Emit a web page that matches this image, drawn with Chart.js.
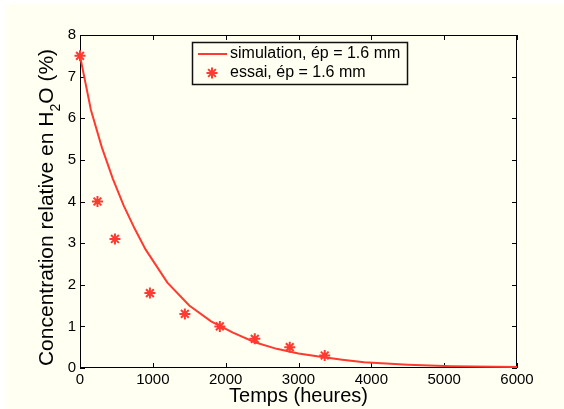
<!DOCTYPE html>
<html><head><meta charset="utf-8">
<script src="https://cdn.jsdelivr.net/npm/chart.js@4.4.1/dist/chart.umd.min.js"></script>
<style>html,body{margin:0;padding:0;background:#fff;}canvas{display:block;}</style>
</head><body>
<canvas id="c" width="564" height="409"></canvas>
<script>
// ---- data ----
const simTime = [0,75,150,300,450,600,750,900,1200,1500,1800,2100,2400,2700,3000,3300,3600,3900,4200,4500,4800,5100,5400,5700,6000];
const simConc = [7.5,6.85,6.2,5.3,4.55,3.9,3.35,2.85,2.05,1.5,1.12,0.85,0.62,0.46,0.35,0.27,0.2,0.14,0.11,0.08,0.06,0.045,0.035,0.03,0.025];
const testTime = [0,240,480,960,1440,1920,2400,2880,3360];
const testConc = [7.5,4.0,3.1,1.8,1.3,1.0,0.7,0.5,0.3];
const xTicks = [0,1000,2000,3000,4000,5000,6000];
const yTicks = [0,1,2,3,4,5,6,7,8];
const seriesLabels = ['simulation, ép = 1.6 mm','essai, ép = 1.6 mm'];
const xTitle = 'Temps (heures)';
const yTitleParts = ['Concentration relative en H','2','O (%)'];

const RED = '#ff3a30';
const CREAM = '#fffff2';
const FONT = '"Liberation Sans", Arial, Helvetica, sans-serif';

const bgPlugin = {
  id: 'bg',
  beforeDraw(chart) {
    const ctx = chart.ctx;
    ctx.save();
    ctx.fillStyle = CREAM;
    ctx.fillRect(5, 4, chart.width - 5, chart.height - 4);
    ctx.restore();
  }
};

const framePlugin = {
  id: 'frame',
  beforeDatasetsDraw(chart) {
    const {ctx, chartArea: a, scales} = chart;
    ctx.save();
    ctx.strokeStyle = '#000';
    ctx.lineWidth = 1;
    ctx.beginPath();
    ctx.rect(a.left + 0.5, a.top + 0.5, a.right - a.left - 1, a.bottom - a.top - 1);
    ctx.stroke();
    const L = 5;
    ctx.beginPath();
    xTicks.forEach(v => {
      const px = Math.round(scales.x.getPixelForValue(v)) + 0.5;
      ctx.moveTo(px, a.bottom); ctx.lineTo(px, a.bottom - L);
      ctx.moveTo(px, a.top); ctx.lineTo(px, a.top + L);
    });
    yTicks.forEach(v => {
      const py = Math.round(scales.y.getPixelForValue(v)) + 0.5;
      ctx.moveTo(a.left, py); ctx.lineTo(a.left + L, py);
      ctx.moveTo(a.right, py); ctx.lineTo(a.right - L, py);
    });
    ctx.stroke();
    ctx.restore();
  },
  afterDraw(chart) {
    const ctx = chart.ctx;
    // legend
    ctx.save();
    const bx = 192, by = 42, bw = 215, bh = 42;
    ctx.fillStyle = CREAM;
    ctx.fillRect(bx, by, bw, bh);
    ctx.strokeStyle = '#111';
    ctx.lineWidth = 1.5;
    ctx.strokeRect(bx + 0.5, by + 0.5, bw, bh);
    const ds = chart.data.datasets;
    ctx.strokeStyle = ds[0].borderColor;
    ctx.lineWidth = 2;
    ctx.beginPath();
    ctx.moveTo(198, 54); ctx.lineTo(227, 54);
    ctx.stroke();
    ctx.strokeStyle = ds[1].borderColor;
    ctx.lineWidth = 2;
    ctx.beginPath();
    const r = 5.5, cx = 212, cy = 73;
    ctx.moveTo(cx - r, cy); ctx.lineTo(cx + r, cy);
    ctx.moveTo(cx, cy - r); ctx.lineTo(cx, cy + r);
    const d = r * Math.SQRT1_2;
    ctx.moveTo(cx - d, cy - d); ctx.lineTo(cx + d, cy + d);
    ctx.moveTo(cx - d, cy + d); ctx.lineTo(cx + d, cy - d);
    ctx.stroke();
    ctx.fillStyle = '#000';
    ctx.font = '16px ' + FONT;
    ctx.textBaseline = 'middle';
    ctx.textAlign = 'left';
    ctx.fillText(ds[0].label, 230, 54);
    ctx.fillText(ds[1].label, 230, 73);
    ctx.restore();

    // y axis title with subscript
    ctx.save();
    ctx.fillStyle = '#000';
    ctx.translate(53, 207.5);
    ctx.rotate(-Math.PI / 2);
    ctx.textBaseline = 'alphabetic';
    ctx.textAlign = 'left';
    const big = '21px ' + FONT, small = '14px ' + FONT;
    ctx.font = big; const w1 = ctx.measureText(yTitleParts[0]).width;
    ctx.font = small; const w2 = ctx.measureText(yTitleParts[1]).width;
    ctx.font = big; const w3 = ctx.measureText(yTitleParts[2]).width;
    let sx = -(w1 + w2 + w3) / 2;
    ctx.font = big; ctx.fillText(yTitleParts[0], sx, 0);
    ctx.font = small; ctx.fillText(yTitleParts[1], sx + w1, 7);
    ctx.font = big; ctx.fillText(yTitleParts[2], sx + w1 + w2, 0);
    ctx.restore();
  }
};

new Chart(document.getElementById('c'), {
  type: 'scatter',
  data: {
    datasets: [
      {
        label: seriesLabels[0],
        data: simTime.map((t, i) => ({x: t, y: simConc[i]})),
        showLine: true,
        borderColor: RED,
        backgroundColor: RED,
        borderWidth: 2,
        pointRadius: 0,
        tension: 0,
        order: 2
      },
      {
        label: seriesLabels[1],
        data: testTime.map((t, i) => ({x: t, y: testConc[i]})),
        showLine: false,
        clip: false,
        borderColor: RED,
        backgroundColor: RED,
        pointStyle: 'star',
        pointRadius: 5.5,
        pointBorderWidth: 2,
        order: 1
      }
    ]
  },
  options: {
    responsive: false,
    animation: false,
    events: [],
    layout: {padding: {top: 35, right: 47, bottom: 0, left: 0}},
    plugins: {legend: {display: false}, tooltip: {enabled: false}},
    scales: {
      x: {
        type: 'linear', min: 0, max: 6000,
        afterFit(s) { s.height = 41; },
        afterBuildTicks(s) { s.ticks = xTicks.map(v => ({value: v})); },
        grid: {display: false, drawTicks: false},
        border: {display: false},
        ticks: {padding: 3, color: '#000', font: {family: FONT, size: 15}, maxRotation: 0, callback: v => String(v)},
        title: {display: true, text: xTitle, color: '#000', font: {family: FONT, size: 20}, padding: {top: 0, bottom: 1}}
      },
      y: {
        type: 'linear', min: 0, max: 8,
        afterFit(s) { s.width = 80; },
        afterBuildTicks(s) { s.ticks = yTicks.map(v => ({value: v})); },
        grid: {display: false, drawTicks: false},
        border: {display: false},
        ticks: {padding: 4, color: '#000', font: {family: FONT, size: 15}, callback: v => String(v)}
      }
    }
  },
  plugins: [bgPlugin, framePlugin]
});
</script>
</body></html>
